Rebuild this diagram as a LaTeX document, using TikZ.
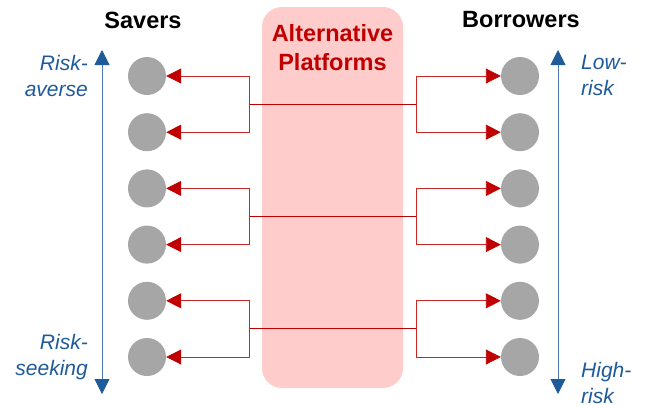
\documentclass[tikz,border=0pt]{standalone}
\usepackage{fontspec}
\setmainfont{Liberation Sans}
\usetikzlibrary{arrows.meta}
\definecolor{cred}{HTML}{C00000}
\definecolor{cpink}{HTML}{FFCCCC}
\definecolor{cgray}{HTML}{A6A6A6}
\definecolor{cblue}{HTML}{1F5A9A}
\begin{document}
\begin{tikzpicture}[x=1pt,y=-1pt,
  dot/.style={circle,fill=cgray,minimum size=38pt,inner sep=0pt},
  redline/.style={draw=cred!85,line width=0.9pt,-{Triangle[length=15pt,width=15pt,fill=cred,color=cred]}},
  midline/.style={draw=cred,line width=0.9pt},
  scale arrow/.style={draw=cblue!80,line width=0.9pt,{Triangle[length=15pt,width=15pt,fill=cblue,color=cblue]}-{Triangle[length=15pt,width=15pt,fill=cblue,color=cblue]}},
  heading/.style={font=\bfseries\fontsize{23.5}{28}\selectfont,inner sep=0pt},
  risklabel/.style={font=\itshape\fontsize{21}{26}\selectfont,text=cblue,inner sep=0pt}
]
\useasboundingbox (0,0) rectangle (645,405);
% platform box
\node[draw=none,fill=cpink,rounded corners=20pt,minimum width=141pt,minimum height=381pt,inner sep=0pt] (plat) at (332.5,197.5) {};
\node[font=\bfseries\fontsize{23.5}{29}\selectfont,text=cred,align=center,inner sep=0pt] (plattext) at (332.5,47.5) {Alternative\\Platforms};
% headings
\node[heading] (savers) at (143,20) {Savers};
\node[heading] (borrowers) at (521,20) {Borrowers};
% circles
\foreach \i/\y in {1/76,2/132.2,3/188.4,4/244.6,5/300.8,6/357}{
  \node[dot] (L\i) at (147,\y) {};
  \node[dot] (R\i) at (520,\y) {};
}
% branch points
\coordinate (bl1) at (249,104.1);
\coordinate (br1) at (416,104.1);
\coordinate (bl2) at (249,216.5);
\coordinate (br2) at (416,216.5);
\coordinate (bl3) at (249,328.9);
\coordinate (br3) at (416,328.9);
\draw[midline] (bl1) -- (br1);
\draw[midline] (bl2) -- (br2);
\draw[midline] (bl3) -- (br3);
\draw[redline] (bl1) |- (L1.east);
\draw[redline] (bl1) |- (L2.east);
\draw[redline] (bl2) |- (L3.east);
\draw[redline] (bl2) |- (L4.east);
\draw[redline] (bl3) |- (L5.east);
\draw[redline] (bl3) |- (L6.east);
\draw[redline] (br1) |- (R1.west);
\draw[redline] (br1) |- (R2.west);
\draw[redline] (br2) |- (R3.west);
\draw[redline] (br2) |- (R4.west);
\draw[redline] (br3) |- (R5.west);
\draw[redline] (br3) |- (R6.west);
% risk scales
\coordinate (lt) at (102,50);
\coordinate (lb) at (102,394);
\coordinate (rt) at (558,50);
\coordinate (rb) at (558,394);
\draw[scale arrow] (lt) -- (lb);
\draw[scale arrow] (rt) -- (rb);
% labels
\node[risklabel,align=right,anchor=east] (averse) at (88,75.5) {Risk-\\averse};
\node[risklabel,align=right,anchor=east] (seeking) at (88,357) {Risk-\\seeking};
\node[risklabel,align=left,anchor=west] (lowrisk) at (581,75.5) {Low-\\risk};
\node[risklabel,align=left,anchor=west] (highrisk) at (581,383) {High-\\risk};
\end{tikzpicture}
\end{document}
